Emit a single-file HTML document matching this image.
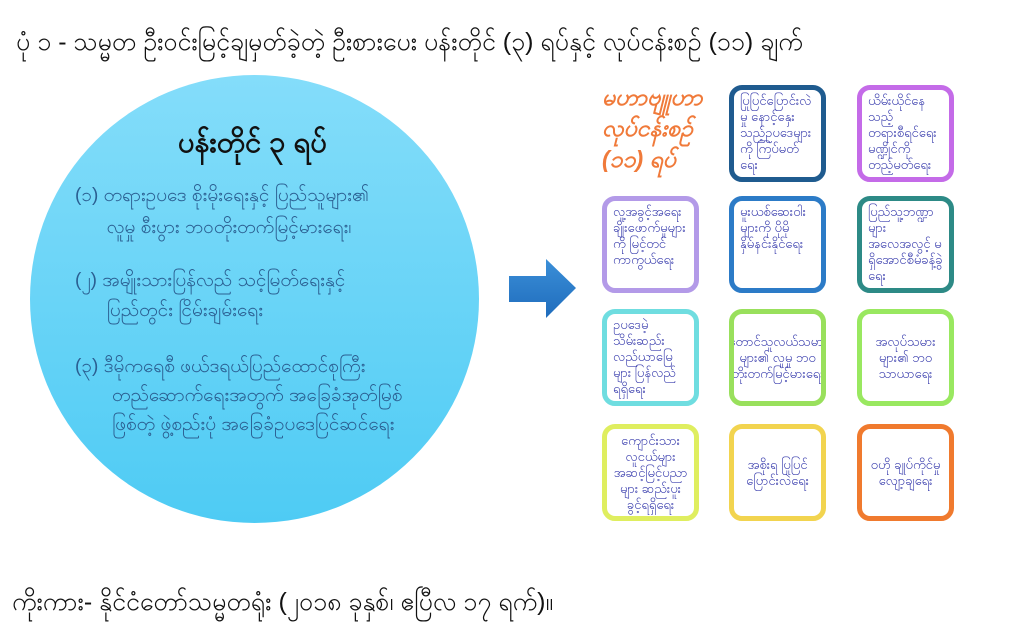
<!DOCTYPE html>
<html><head><meta charset="utf-8"><style>
body{margin:0;width:1024px;height:632px;background:#fff;position:relative;overflow:hidden;font-family:"Liberation Sans","Noto Sans CJK SC",sans-serif}
.t{position:absolute;white-space:nowrap}
.circle{position:absolute;left:30px;top:75px;width:449px;height:448px;border-radius:50%;background:linear-gradient(#84ddfa,#4ecbf4)}
.b{position:absolute;border:5px solid;border-radius:13px;background:#fff;color:#3b3fae;font-size:13px;line-height:16px;padding:3px 6px;box-sizing:content-box;width:75px;height:81px;overflow:hidden}
.c{display:flex;align-items:center;justify-content:center;text-align:center}
</style></head><body>
<div class="t" style="left:16px;top:26px;font-size:25px;color:#111">ပုံ ၁ - သမ္မတ ဦးဝင်းမြင့်ချမှတ်ခဲ့တဲ့ ဦးစားပေး ပန်းတိုင် (၃) ရပ်နှင့် လုပ်ငန်းစဉ် (၁၁) ချက်</div>
<div class="circle"></div>
<div class="t" style="left:178px;top:124px;font-size:29px;font-weight:bold;color:#111">ပန်းတိုင် ၃ ရပ်</div>
<div class="t" style="left:75px;top:180px;font-size:19px;line-height:32px;color:#2b5f92">(၁) တရားဥပဒေ စိုးမိုးရေးနှင့် ပြည်သူများ၏<br>&nbsp;&nbsp;&nbsp;&nbsp;&nbsp;&nbsp;လူမှု စီးပွား ဘဝတိုးတက်မြင့်မားရေး၊</div>
<div class="t" style="left:75px;top:266px;font-size:19px;line-height:30px;color:#2b5f92">(၂) အမျိုးသားပြန်လည် သင့်မြတ်ရေးနှင့်<br>&nbsp;&nbsp;&nbsp;&nbsp;&nbsp;&nbsp;ပြည်တွင်း ငြိမ်းချမ်းရေး</div>
<div class="t" style="left:75px;top:352px;font-size:19px;line-height:29px;color:#2b5f92">(၃) ဒီမိုကရေစီ ဖယ်ဒရယ်ပြည်ထောင်စုကြီး<br>&nbsp;&nbsp;&nbsp;&nbsp;&nbsp;&nbsp;&nbsp;တည်ဆောက်ရေးအတွက် အခြေခံအုတ်မြစ်<br>&nbsp;&nbsp;&nbsp;&nbsp;&nbsp;&nbsp;&nbsp;ဖြစ်တဲ့ ဖွဲ့စည်းပုံ အခြေခံဥပဒေပြင်ဆင်ရေး</div>
<svg style="position:absolute;left:509px;top:259px" width="68" height="60"><defs><linearGradient id="g" x1="0" x2="0" y1="0" y2="1"><stop offset="0" stop-color="#3b8fd8"/><stop offset="1" stop-color="#1f6cbc"/></linearGradient></defs><polygon points="0,17 37,17 37,0 67,29 37,59 37,43 0,43" fill="url(#g)"/></svg>
<div class="t" style="left:602px;top:82px;font-size:23px;line-height:31px;font-style:italic;font-weight:bold;color:#f07a3a">မဟာဗျူဟာ<br>လုပ်ငန်းစဉ်<br>(၁၁) ရပ်</div>
<div class="b" style="left:729px;top:85px;border-color:#1f5b8f">ပြုပြင်ပြောင်းလဲမှု နောင့်နှေးသည့်ဥပဒေများကို ကြပ်မတ်ရေး</div>
<div class="b" style="left:857px;top:85px;border-color:#c46be8">ယိမ်းယိုင်နေသည့် တရားစီရင်ရေးမဏ္ဍိုင်ကို တည့်မတ်ရေး</div>
<div class="b" style="left:602px;top:196px;border-color:#b39ae8">လူ့အခွင့်အရေး ချိုးဖောက်မှုများကို မြင့်တင်ကာကွယ်ရေး</div>
<div class="b" style="left:729px;top:196px;border-color:#2c7bc7">မူးယစ်ဆေးဝါးများကို ပိုမိုနှိမ်နင်းနိုင်ရေး</div>
<div class="b" style="left:857px;top:196px;border-color:#2d8a86">ပြည်သူ့ဘဏ္ဍာများ အလေအလွင့် မရှိအောင်စီမံခန့်ခွဲရေး</div>
<div class="b" style="left:602px;top:309px;border-color:#6fdde0">ဥပဒေမဲ့ သိမ်းဆည်းလည်ယာမြေများ ပြန်လည်ရရှိရေး</div>
<div class="b c" style="left:729px;top:309px;border-color:#99e05c">တောင်သူလယ်သမားများ၏ လူမှု ဘဝ တိုးတက်မြင့်မားရေး</div>
<div class="b c" style="left:857px;top:309px;border-color:#99e860">အလုပ်သမားများ၏ ဘဝ သာယာရေး</div>
<div class="b c" style="left:602px;top:424px;border-color:#dfee5f">ကျောင်းသားလူငယ်များ အဆင့်မြင့်ပညာများ ဆည်းပူးခွင့်ရရှိရေး</div>
<div class="b c" style="left:729px;top:424px;border-color:#f2d44f">အစိုးရ ပြုပြင်ပြောင်းလဲရေး</div>
<div class="b c" style="left:857px;top:424px;border-color:#f07a2e">ဝဟို ချုပ်ကိုင်မှု လျော့ချရေး</div>
<div class="t" style="left:12px;top:586px;font-size:25px;color:#111">ကိုးကား- နိုင်ငံတော်သမ္မတရုံး (၂၀၁၈ ခုနှစ်၊ ဧပြီလ ၁၇ ရက်)။</div>
</body></html>
